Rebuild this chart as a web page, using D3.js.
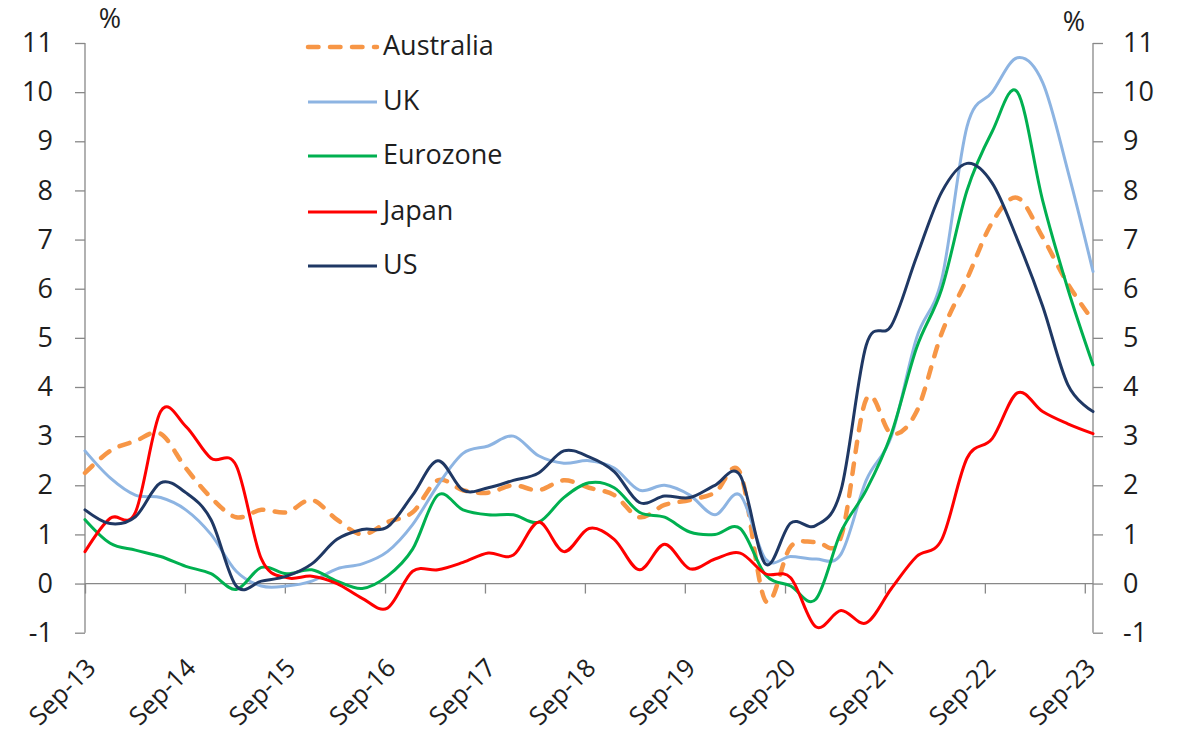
<!DOCTYPE html>
<html>
<head>
<meta charset="utf-8">
<script src="https://cdn.jsdelivr.net/npm/d3@7/dist/d3.min.js"></script>
<style>
  html, body { margin: 0; padding: 0; background: #ffffff; }
  svg { display: block; }
  text { font-family: "Open Sans", Lato, sans-serif; fill: #1e1e1e; }
</style>
</head>
<body>
<svg id="chart" width="1178" height="742"></svg>
<script>
// Quarterly consumer price inflation, year-ended, per cent
const quarters = [
  "Sep-13","Dec-13","Mar-14","Jun-14","Sep-14","Dec-14","Mar-15","Jun-15","Sep-15","Dec-15",
  "Mar-16","Jun-16","Sep-16","Dec-16","Mar-17","Jun-17","Sep-17","Dec-17","Mar-18","Jun-18",
  "Sep-18","Dec-18","Mar-19","Jun-19","Sep-19","Dec-19","Mar-20","Jun-20","Sep-20","Dec-20",
  "Mar-21","Jun-21","Sep-21","Dec-21","Mar-22","Jun-22","Sep-22","Dec-22","Mar-23","Jun-23",
  "Sep-23"
];

const australia = [
  2.25, 2.7, 2.9, 3.05, 2.35, 1.75, 1.35, 1.5, 1.45, 1.7,
  1.3, 1.0, 1.25, 1.45, 2.1, 1.9, 1.85, 2.0, 1.9, 2.1,
  1.95, 1.8, 1.35, 1.6, 1.7, 1.85, 2.25, -0.35, 0.75, 0.85,
  0.95, 3.75, 3.05, 3.5, 5.1, 6.2, 7.35, 7.85, 7.05, 6.1,
  5.35
];
const uk = [
  2.7, 2.15, 1.8, 1.75, 1.5, 1.0, 0.25, -0.05, -0.05, 0.05,
  0.3, 0.4, 0.65, 1.2, 2.0, 2.65, 2.8, 3.0, 2.6, 2.45,
  2.5, 2.35, 1.9, 2.0, 1.8, 1.4, 1.8, 0.5, 0.55, 0.5,
  0.6, 2.1, 3.0, 5.0, 6.2, 9.3, 10.0, 10.7, 10.2, 8.4,
  6.35
];
const eurozone = [
  1.3, 0.82, 0.68, 0.55, 0.35, 0.2, -0.12, 0.33, 0.2, 0.28,
  0.05, -0.1, 0.15, 0.7, 1.8, 1.5, 1.4, 1.4, 1.25, 1.75,
  2.05, 1.95, 1.45, 1.35, 1.05, 1.0, 1.12, 0.18, -0.05, -0.32,
  1.05, 1.9, 3.05, 4.8, 6.0, 8.0, 9.2, 10.0, 7.8, 6.0,
  4.45
];
const japan = [
  0.65, 1.33, 1.45, 3.5, 3.2, 2.55, 2.4, 0.5, 0.12, 0.15,
  0.0, -0.3, -0.5, 0.25, 0.28, 0.43, 0.62, 0.58, 1.25, 0.65,
  1.12, 0.9, 0.28, 0.8, 0.3, 0.5, 0.62, 0.2, 0.12, -0.88,
  -0.55, -0.8, -0.1, 0.55, 0.9, 2.55, 2.95, 3.88, 3.5, 3.25,
  3.05
];
const us = [
  1.5, 1.22, 1.36, 2.05, 1.85, 1.3, -0.05, 0.05, 0.15, 0.4,
  0.9, 1.1, 1.15, 1.8, 2.5, 1.9, 1.95, 2.1, 2.25, 2.7,
  2.58, 2.28, 1.65, 1.78, 1.75, 2.0, 2.2, 0.4, 1.23, 1.18,
  1.9, 4.85, 5.25, 6.65, 7.97, 8.55, 8.15, 7.0, 5.65, 4.05,
  3.5
];

const seriesNames = ["Australia", "UK", "Eurozone", "Japan", "US"];
const seriesValues = [australia, uk, eurozone, japan, us];
const seriesColors = ["#F79646", "#8DB4E2", "#00B050", "#FF0000", "#1F3864"];

const yTicks = [-1, 0, 1, 2, 3, 4, 5, 6, 7, 8, 9, 10, 11];
const xTickLabels = ["Sep-13","Sep-14","Sep-15","Sep-16","Sep-17","Sep-18","Sep-19","Sep-20","Sep-21","Sep-22","Sep-23"];

const svg = d3.select("#chart");
const plotLeft = 85, plotRight = 1093, plotTop = 43, plotBottom = 632.7;
const axisColor = "#888888";

// Data positions: one point per quarter across the plot width
const x = d3.scalePoint().domain(quarters).range([plotLeft, plotRight]);
// Calendar axis for the September tick marks
const xTime = d3.scaleTime()
  .domain([new Date(2013, 8, 1), new Date(2023, 9, 1)])
  .range([plotLeft, plotRight]);
const y = d3.scaleLinear().domain([-1, 11]).range([plotBottom, plotTop]);

const fontSize = 27;
const dateFontSize = 25.5;
const fmt = d => String(d);

// Left axis
const yLeft = d3.axisLeft(y).tickValues(yTicks).tickSize(10).tickPadding(22).tickFormat(fmt);
const gL = svg.append("g").attr("transform", `translate(${plotLeft},0)`).call(yLeft);
// Right axis
const yRight = d3.axisRight(y).tickValues(yTicks).tickSize(10).tickPadding(20).tickFormat(fmt);
const gR = svg.append("g").attr("transform", `translate(${plotRight},0)`).call(yRight);

[gL, gR].forEach(g => {
  g.select(".domain").attr("stroke", axisColor).attr("stroke-width", 1.3)
    .attr("d", `M0,${plotTop}V${plotBottom}`);
  g.selectAll(".tick line").attr("stroke", axisColor).attr("stroke-width", 1.3);
  g.selectAll(".tick text").attr("font-size", fontSize).attr("fill", "#1e1e1e")
    .attr("font-family", "'Open Sans', Lato, sans-serif");
});

// Horizontal category axis along zero
const tickDates = xTickLabels.map((s, i) => new Date(2013 + i, 8, 1));
const xAxis = d3.axisBottom(xTime).tickValues(tickDates).tickSize(10).tickFormat((d, i) => xTickLabels[i]);
const gX = svg.append("g").attr("transform", `translate(0,${y(0)})`).call(xAxis);
gX.select(".domain").attr("stroke", axisColor).attr("stroke-width", 1.3)
  .attr("d", `M${plotLeft},0H${plotRight}`);
gX.selectAll(".tick line").attr("stroke", axisColor).attr("stroke-width", 1.3);
gX.selectAll(".tick text").remove();

// Rotated date labels below the plot
svg.append("g").selectAll("text")
  .data(tickDates)
  .join("text")
  .attr("transform", (d) => `translate(${xTime(d) + 6},${663}) rotate(-45)`)
  .attr("text-anchor", "end")
  .attr("dy", "0.35em")
  .attr("font-size", dateFontSize)
  .text((d, i) => xTickLabels[i]);

// Unit labels
svg.append("text").attr("x", 110).attr("y", 19).attr("dy", "0.35em")
  .attr("text-anchor", "middle").attr("font-size", fontSize).text("%");
svg.append("text").attr("x", 1074).attr("y", 22).attr("dy", "0.35em")
  .attr("text-anchor", "middle").attr("font-size", fontSize).text("%");

// Series lines
const line = d3.line()
  .x((d, i) => x(quarters[i]))
  .y(d => y(d))
  .curve(d3.curveCardinal.tension(0));

const gLines = svg.append("g");
seriesValues.forEach((vals, k) => {
  const p = gLines.append("path")
    .datum(vals)
    .attr("d", line)
    .attr("fill", "none")
    .attr("stroke", seriesColors[k])
    .attr("stroke-linejoin", "round");
  if (k === 0) {
    p.attr("stroke-width", 4.5).attr("stroke-dasharray", "10.5,11.5").attr("stroke-linecap", "round");
  } else {
    p.attr("stroke-width", 3).attr("stroke-linecap", "round");
  }
});

// Legend
const legendY = [47, 102, 156, 212, 266];
const gLeg = svg.append("g");
seriesNames.forEach((name, k) => {
  const ln = gLeg.append("line")
    .attr("x1", 308).attr("x2", 377)
    .attr("y1", legendY[k]).attr("y2", legendY[k])
    .attr("stroke", seriesColors[k]);
  if (k === 0) {
    ln.attr("stroke-width", 4.5).attr("stroke-dasharray", "10.5,11.5").attr("stroke-linecap", "round");
  } else {
    ln.attr("stroke-width", 3);
  }
  gLeg.append("text")
    .attr("x", 383).attr("y", legendY[k] - 1).attr("dy", "0.35em")
    .attr("font-size", fontSize)
    .text(name);
});
</script>
</body>
</html>
